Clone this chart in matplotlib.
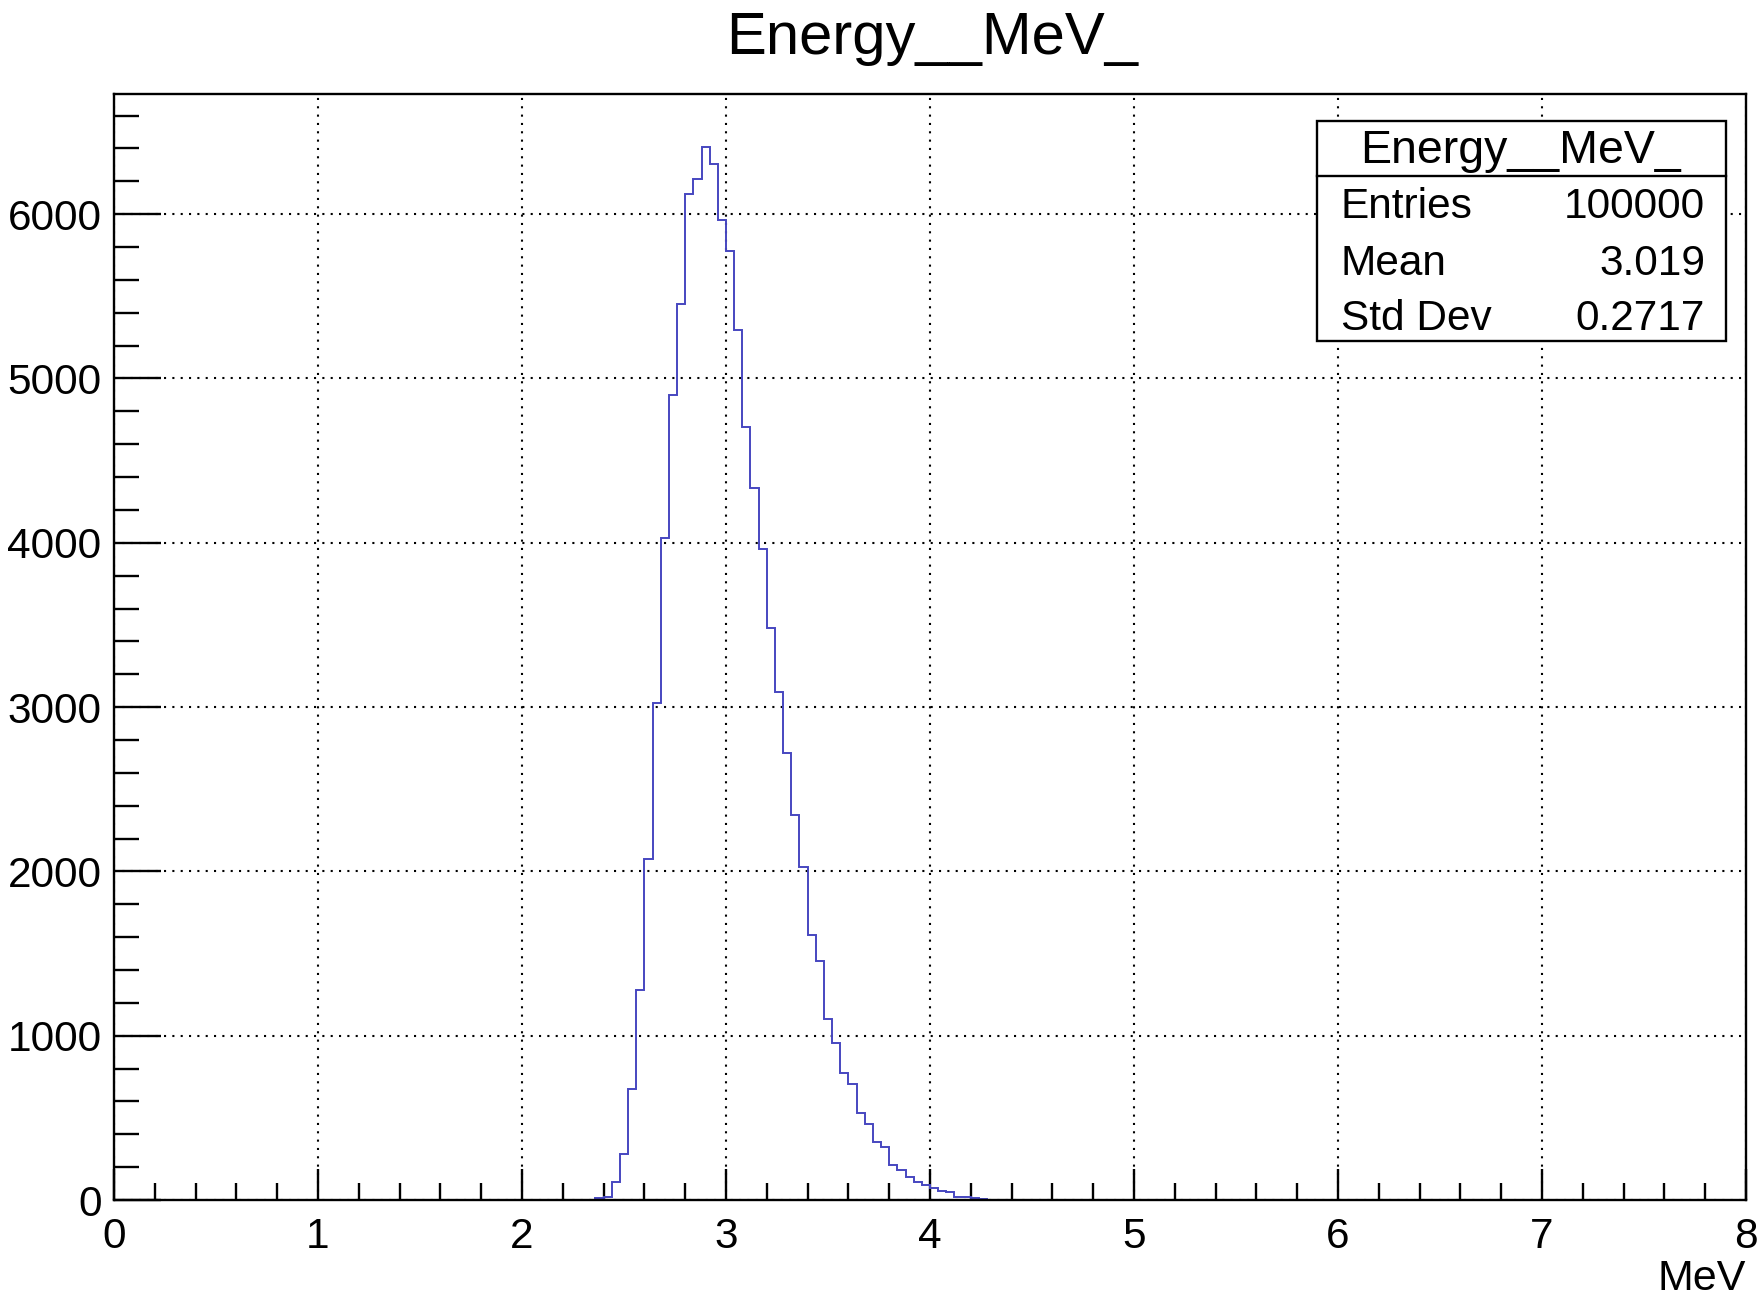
import numpy as np
import matplotlib
matplotlib.use("Agg")
import matplotlib.pyplot as plt
from matplotlib.ticker import MultipleLocator
from matplotlib.patches import Rectangle
from matplotlib.lines import Line2D

plt.rcParams["font.family"] = ["Liberation Sans", "DejaVu Sans"]

# histogram Energy__MeV_ : 0.04 MeV bins, first filled bin starts at 2.36 MeV
bin_width = 0.04
first_edge = 2.36
counts = [10, 20, 107, 283, 675, 1278, 2077, 3023, 4029, 4901,
          5451, 6124, 6214, 6411, 6304, 5966, 5776, 5293, 4706, 4335,
          3962, 3484, 3090, 2719, 2345, 2024, 1612, 1456, 1099, 957,
          775, 707, 531, 460, 353, 321, 214, 182, 139, 107,
          90, 75, 54, 50, 21, 18, 12, 8]

stat_names = ["Entries", "Mean", "Std Dev"]
stat_values = ["100000", "3.019", "0.2717"]
hist_name = "Energy__MeV_"

W, H = 1757, 1306
fig = plt.figure(figsize=(W / 100, H / 100), dpi=100)
ax = fig.add_axes([114 / W, 1 - 1200 / H, 1632 / W, 1106 / H])

edges = first_edge + bin_width * np.arange(len(counts) + 1)
ax.stairs(counts, edges, color="#4646c0", linewidth=1.4)

ax.set_xlim(0, 8)
ax.set_ylim(0, 1.05 * max(counts))
ax.xaxis.set_major_locator(MultipleLocator(1))
ax.xaxis.set_minor_locator(MultipleLocator(0.2))
ax.yaxis.set_major_locator(MultipleLocator(1000))
ax.yaxis.set_minor_locator(MultipleLocator(200))

ax.grid(True, which="major", color="black", linestyle=(0, (1, 3)), linewidth=1.5)
ax.set_axisbelow(True)

for s in ax.spines.values():
    s.set_linewidth(1.7)
ax.tick_params(axis="both", direction="in", width=1.7, labelsize=30.5, colors="black")
ax.tick_params(axis="x", which="major", length=22, pad=12)
ax.tick_params(axis="x", which="minor", length=12, width=1.7, direction="in")
ax.tick_params(axis="y", which="major", length=34, pad=9)
ax.tick_params(axis="y", which="minor", length=18, width=1.7, direction="in")

ax.set_xlabel("MeV", fontsize=31, loc="right", labelpad=2)

fig.text(932 / W, 1 - 54 / H, hist_name, fontsize=43, ha="center", va="baseline")


def px(x, y):
    return x / W, 1 - y / H


# stats box
bl = px(1317, 341)
tr = px(1726, 121)
fig.patches.append(Rectangle(bl, tr[0] - bl[0], tr[1] - bl[1], transform=fig.transFigure,
                             facecolor="white", edgecolor="black", linewidth=1.7, zorder=5))
sep = px(1317, 176)
fig.lines.append(Line2D([bl[0], tr[0]], [sep[1], sep[1]], transform=fig.transFigure,
                        color="black", linewidth=1.7, zorder=6))
fig.text(*px(1521, 163), hist_name, fontsize=33.5, ha="center", va="baseline", zorder=7)
for i, (name, val) in enumerate(zip(stat_names, stat_values)):
    yb = [218, 275, 330][i]
    fig.text(*px(1341, yb), name, fontsize=30.5, ha="left", va="baseline", zorder=7)
    fig.text(*px(1705, yb), val, fontsize=30.5, ha="right", va="baseline", zorder=7)

fig.savefig("out.png", dpi=100, facecolor="white")
